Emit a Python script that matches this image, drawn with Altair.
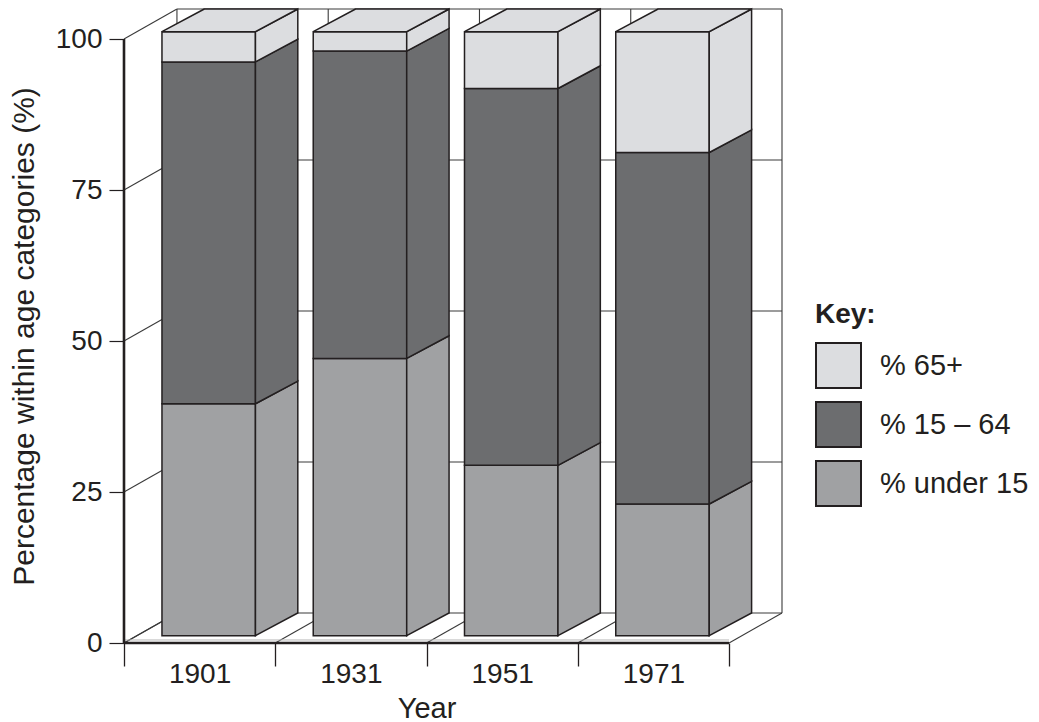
import altair as alt
import pandas as pd

# Census years and the share of each age group (percent of population)
years = ["1901", "1931", "1951", "1971"]
under_15 = [38.4, 45.9, 28.2, 21.8]
age_15_64 = [56.6, 50.9, 62.4, 58.2]
age_65_plus = [5.0, 3.2, 9.4, 20.0]

segment_names = ["% under 15", "% 15 – 64", "% 65+"]
segment_values = [under_15, age_15_64, age_65_plus]
segment_colors = ["#a0a1a3", "#6c6d6f", "#dcdde0"]
legend_order = ["% 65+", "% 15 – 64", "% under 15"]
y_ticks = [0, 25, 50, 75, 100]

INK = "#231f20"
FONT = "Liberation Sans"

# Oblique projection of the depth axis, in data units (x: category slots, y: percent)
WALL_DX, WALL_DY = 0.35, 4.97      # full depth of floor and side wall
FRONT_DY = 1.21                    # bars stand a little behind the front edge
SIDE_DX, SIDE_DY = 0.28, 3.76      # depth of each bar
BAR_LEFT, BAR_RIGHT = 0.251, 0.869 # front face inside its category slot

n = len(years)
color_of = dict(zip(segment_names, segment_colors))

# front faces, side faces and lids of the bars
front_rows, side_rows, top_rows = [], [], []
for i, year in enumerate(years):
    base = 0.0
    for name, vals in zip(segment_names, segment_values):
        v = vals[i]
        lo, hi = base + FRONT_DY, base + v + FRONT_DY
        front_rows.append(dict(year=year, seg=name, x=i + BAR_LEFT, x2=i + BAR_RIGHT, y=lo, y2=hi))
        pid = f"{year}-{name}"
        side_rows.append(dict(pid=pid, fill=color_of[name], x=i + BAR_RIGHT, y=lo, y2=hi))
        side_rows.append(dict(pid=pid, fill=color_of[name], x=i + BAR_RIGHT + SIDE_DX,
                              y=lo + SIDE_DY, y2=hi + SIDE_DY))
        base += v
    top_name = segment_names[-1]
    top = base + FRONT_DY
    top_rows.append(dict(pid=year, fill=color_of[top_name], y=top, x=i + BAR_LEFT, x2=i + BAR_RIGHT))
    top_rows.append(dict(pid=year, fill=color_of[top_name], y=top + SIDE_DY,
                         x=i + BAR_LEFT + SIDE_DX, x2=i + BAR_RIGHT + SIDE_DX))

front_df = pd.DataFrame(front_rows)
side_df = pd.DataFrame(side_rows)
top_df = pd.DataFrame(top_rows)

# box outline: back wall grid, side wall diagonals, floor diagonals
wall_rows = []
for v in y_ticks:
    wall_rows.append(dict(x=WALL_DX, x2=n + WALL_DX, y=v + WALL_DY, y2=v + WALL_DY))
    wall_rows.append(dict(x=0, x2=WALL_DX, y=v, y2=v + WALL_DY))
for i in range(n + 1):
    wall_rows.append(dict(x=i + WALL_DX, x2=i + WALL_DX, y=WALL_DY, y2=y_ticks[-1] + WALL_DY))
    wall_rows.append(dict(x=i, x2=i + WALL_DX, y=0, y2=WALL_DY))
wall_df = pd.DataFrame(wall_rows)

axis_df = pd.DataFrame([
    dict(x=0, x2=n, y=0, y2=0),
    dict(x=0, x2=0, y=0, y2=y_ticks[-1]),
])
edge_df = pd.DataFrame([dict(x=0, x2=n, y=0.5, y2=0.5)])

xs = alt.Scale(domain=[0, n + WALL_DX], nice=False, zero=False)
ys = alt.Scale(domain=[0, y_ticks[-1] + WALL_DY], nice=False, zero=False)

labels_js = "[" + ",".join(f"'{y}'" for y in years) + "]"
x_axis = alt.Axis(
    values=list(range(n + 1)),
    labelExpr=f"datum.value < {n} ? {labels_js}[datum.value] : ''",
    domain=False, grid=False,
    tickSize=23, tickWidth=1.3, tickColor=INK,
    labelOffset=75.6, labelFlush=False, labelOverlap=False, labelBound=False,
    labelFontSize=28, labelPadding=16.4, labelBaseline="alphabetic", labelColor=INK,
    title="Year", titleFontSize=29, titleFontWeight="normal", titleColor=INK,
    titleX=302.5, titleY=74, titleAlign="center", titleBaseline="alphabetic",
)
y_axis = alt.Axis(
    values=y_ticks, domain=False, grid=False,
    tickSize=15, tickWidth=1.2, tickColor=INK,
    labelFontSize=28, labelPadding=7, labelColor=INK, labelFlush=False, labelOverlap=False,
    title="Percentage within age categories (%)", titleFontSize=30,
    titleFontWeight="normal", titleColor=INK,
    titleX=-91, titleY=327, titleAlign="center", titleBaseline="alphabetic", titleAngle=270,
)

X = alt.X("x:Q", scale=xs, axis=x_axis)
Y = alt.Y("y:Q", scale=ys, axis=y_axis)

walls = alt.Chart(wall_df).mark_rule(color="#3a3a3a", strokeWidth=1.1).encode(
    x=X, x2="x2:Q", y=Y, y2="y2:Q")
edge = alt.Chart(edge_df).mark_rule(color="#b8b8b8", strokeWidth=1).encode(
    x=X, x2="x2:Q", y=Y, y2="y2:Q")
axes = alt.Chart(axis_df).mark_rule(color=INK, strokeWidth=2.6).encode(
    x=X, x2="x2:Q", y=Y, y2="y2:Q")

fronts = alt.Chart(front_df).mark_rect(stroke=INK, strokeWidth=1.5).encode(
    x=X, x2="x2:Q", y=Y, y2="y2:Q",
    color=alt.Color(
        "seg:N",
        scale=alt.Scale(domain=legend_order, range=[color_of[s] for s in legend_order]),
        legend=alt.Legend(
            title="Key:", orient="none", legendX=691, legendY=292, padding=0,
            symbolType="square", symbolSize=2025, symbolStrokeColor=INK,
            symbolStrokeWidth=2, symbolOpacity=1,
            labelFontSize=29, labelColor=INK, labelOffset=18, labelFont=FONT,
            titleFontSize=28, titleFontWeight="bold", titleColor=INK, titleFont=FONT,
            titlePadding=13, rowPadding=6,
        ),
    ),
)
sides = alt.Chart(side_df).mark_area(stroke=INK, strokeWidth=1.5, opacity=1).encode(
    x=X, y=Y, y2="y2:Q", detail="pid:N", fill=alt.Fill("fill:N", scale=None))
tops = alt.Chart(top_df).mark_area(orient="horizontal", stroke=INK, strokeWidth=1.5, opacity=1).encode(
    y=Y, x=X, x2="x2:Q", detail="pid:N", fill=alt.Fill("fill:N", scale=None))

chart = alt.layer(walls, edge, axes, fronts, sides, tops).properties(
    width=658, height=634,
    padding={"left": 124, "top": 9, "right": 257, "bottom": 79},
    autosize=alt.AutoSizeParams(type="none"),
).configure(font=FONT).configure_view(stroke=None)

chart.save("out.html", embed_options={"renderer": "svg", "actions": False})
